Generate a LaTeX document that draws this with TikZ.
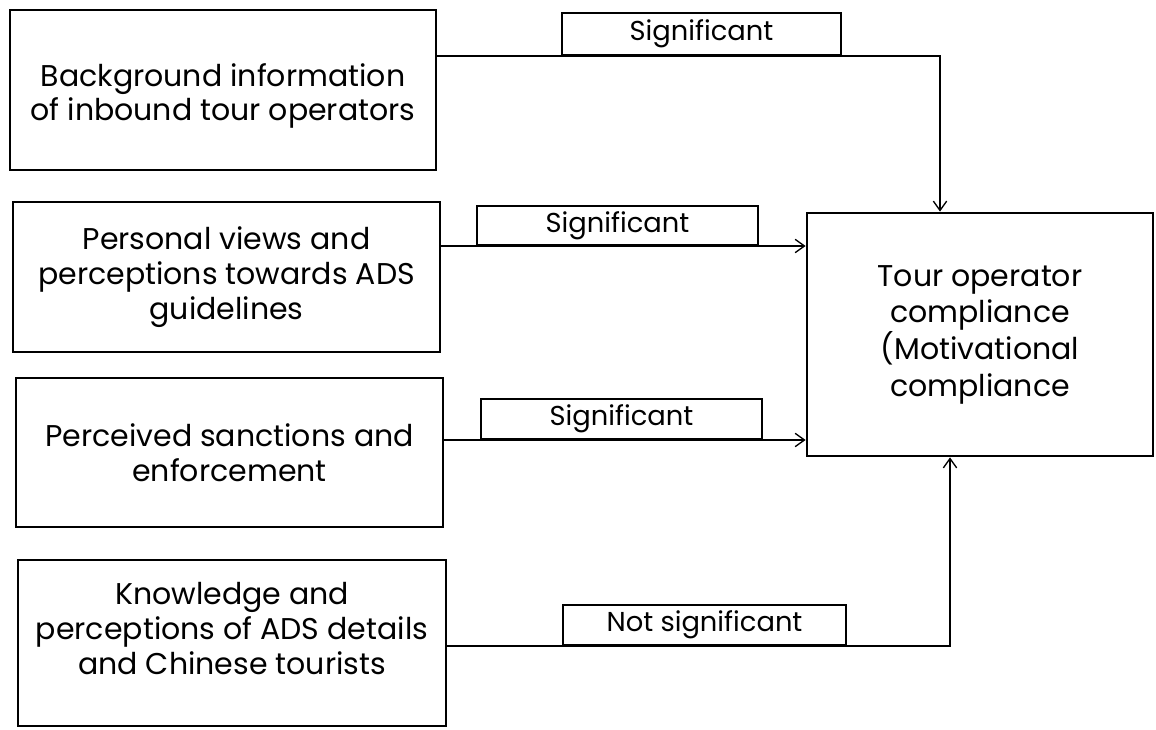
\documentclass[tikz,border=0pt]{standalone}
\usepackage{fontspec}
\setmainfont{Poppins}
\usetikzlibrary{arrows.meta}

\tikzset{
  factor/.style={draw, line width=2.1pt, align=center, inner sep=0pt,
    font=\fontsize{22.5}{26}\selectfont},
  result/.style={draw, line width=2.1pt, align=center, inner sep=0pt,
    font=\fontsize{22.5}{27.5}\selectfont},
  tag/.style={draw, line width=1.8pt, inner sep=0pt, anchor=south,
    font=\fontsize{20.5}{22}\selectfont},
  link/.style={line width=1pt, -{Straight Barb[length=7pt,width=10pt,line width=1pt]}},
}

\begin{document}
\begin{tikzpicture}[x=0.75pt, y=-0.75pt]
  \useasboundingbox (0,0) rectangle (1156,730);

  % explanatory factors
  \node[factor, minimum width=426*0.75pt, minimum height=160*0.75pt] (bg) at (223,90)
    {\rule{0pt}{26pt}Background information\\of inbound tour operators};
  \node[factor, minimum width=427*0.75pt, minimum height=150*0.75pt] (pv) at (226.5,277)
    {Personal views and\\perceptions towards ADS\\guidelines};
  \node[factor, minimum width=427*0.75pt, minimum height=149*0.75pt] (ps) at (229.5,452.5)
    {Perceived sanctions and\\enforcement};
  \node[factor, minimum width=428*0.75pt, minimum height=166*0.75pt] (kn) at (232,643)
    {Knowledge and\\perceptions of ADS details\\and Chinese tourists\\[-4pt]};

  % outcome
  \node[result, minimum width=346*0.75pt, minimum height=243*0.75pt] (tc) at (980,334.5)
    {Tour operator\\compliance\\(Motivational\\compliance};

  % path corner points
  \coordinate (c1) at (940,56);
  \coordinate (c4) at (950,646);

  % significance labels sitting on the connectors
  \node[tag, minimum width=279*0.75pt, minimum height=42*0.75pt] (s1) at (701.5,56) {Significant};
  \node[tag, minimum width=281*0.75pt, minimum height=39*0.75pt] (s2) at (617.5,246) {Significant};
  \node[tag, minimum width=281*0.75pt, minimum height=40*0.75pt] (s3) at (621.5,440) {Significant};
  \node[tag, minimum width=283*0.75pt, minimum height=40*0.75pt] (s4) at (704.5,646) {Not significant};

  % connectors
  \draw[link] (bg.east |- c1) -- (c1) -- (c1 |- tc.north);
  \draw[link] (pv.east |- s2.south) -- (tc.west |- s2.south);
  \draw[link] (ps.east |- s3.south) -- (tc.west |- s3.south);
  \draw[link] (kn.east |- c4) -- (c4) -- (c4 |- tc.south);
\end{tikzpicture}
\end{document}
